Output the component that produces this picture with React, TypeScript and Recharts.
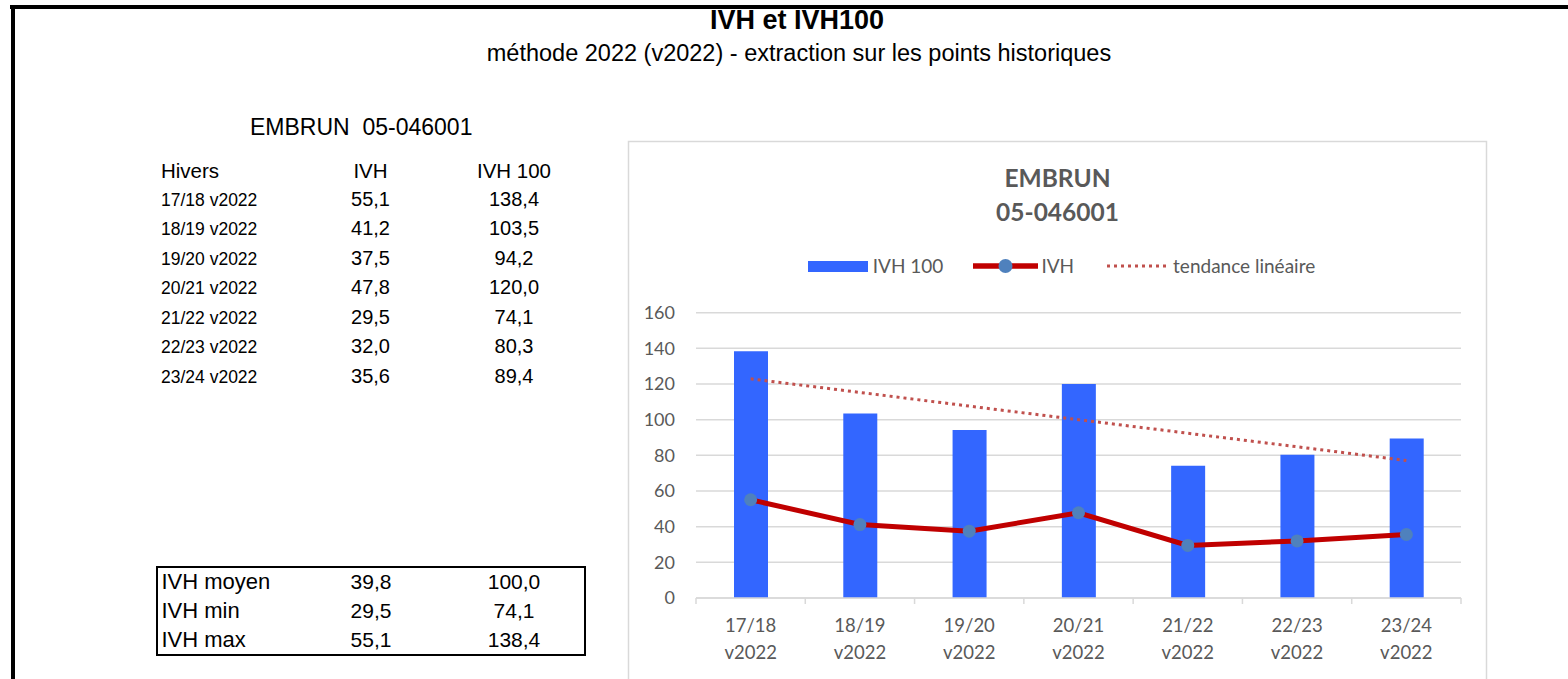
import { ComposedChart, Bar, Line, XAxis, YAxis, CartesianGrid, Legend } from 'recharts'

// ── Data ──────────────────────────────────────────────────────────────────────

const winters = ['17/18 v2022', '18/19 v2022', '19/20 v2022', '20/21 v2022', '21/22 v2022', '22/23 v2022', '23/24 v2022']
const ivhValues = [55.1, 41.2, 37.5, 47.8, 29.5, 32.0, 35.6]
const ivh100Values = [138.4, 103.5, 94.2, 120.0, 74.1, 80.3, 89.4]
const trendValues = [122.9, 115.3, 107.6, 100.0, 92.4, 84.8, 77.1]
const yTicks = [0, 20, 40, 60, 80, 100, 120, 140, 160]

const summaryLabels = ['IVH moyen', 'IVH min', 'IVH max']
const summaryIvh = [39.8, 29.5, 55.1]
const summaryIvh100 = [100.0, 74.1, 138.4]

const chartData = winters.map((hiver, i) => ({
  hiver,
  ivh100: ivh100Values[i],
  ivh: ivhValues[i],
  trend: trendValues[i],
}))

// ── Styles ────────────────────────────────────────────────────────────────────

const ARIAL = '"Liberation Sans", Arial, sans-serif'
const CHART_FONT = 'Lato, "Open Sans", sans-serif'
const GREY_TEXT = '#595959'
const GRID = '#d9d9d9'
const BAR_BLUE = '#3366ff'
const IVH_RED = '#c00000'
const DOT_BLUE = '#4f81bd'
const TREND_RED = '#c0504d'

const fmt = (v: number) => v.toFixed(1).replace('.', ',')

// ── Axis tick: two-line label + boundary tick marks ───────────────────────────

function WinterTick(props: any) {
  const { x, y, payload, index, width, visibleTicksCount } = props
  const count = visibleTicksCount ?? winters.length
  const half = payload?.offset ?? width / count / 2
  const [season, version] = String(payload.value).split(' ')
  const isLast = index === winters.length - 1
  return (
    <g>
      <line x1={x - half} x2={x - half} y1={y} y2={y + 6} stroke={GRID} strokeWidth={1.5} />
      {isLast && <line x1={x + half} x2={x + half} y1={y} y2={y + 6} stroke={GRID} strokeWidth={1.5} />}
      <text x={x} y={y + 34} textAnchor="middle" fill={GREY_TEXT} fontSize={18.5} fontFamily={CHART_FONT}>{season}</text>
      <text x={x} y={y + 61} textAnchor="middle" fill={GREY_TEXT} fontSize={18.5} fontFamily={CHART_FONT}>{version}</text>
    </g>
  )
}

// ── Legend ────────────────────────────────────────────────────────────────────

function ChartLegend() {
  const label = { color: GREY_TEXT, fontSize: 19, fontFamily: CHART_FONT, lineHeight: '24px' }
  return (
    <div style={{ display: 'flex', justifyContent: 'center', alignItems: 'center', height: 24, paddingLeft: 8 }}>
      <svg width={60} height={11} style={{ marginRight: 5 }}>
        <rect x={0} y={0} width={60} height={11} fill={BAR_BLUE} />
      </svg>
      <span style={label}>IVH 100</span>
      <svg width={65} height={16} style={{ marginLeft: 30, marginRight: 3 }}>
        <line x1={0} x2={65} y1={8} y2={8} stroke={IVH_RED} strokeWidth={5.5} strokeLinecap="round" />
        <circle cx={32.5} cy={8} r={7} fill={DOT_BLUE} />
      </svg>
      <span style={label}>IVH</span>
      <svg width={59} height={6} style={{ marginLeft: 33, marginRight: 7 }}>
        <line x1={0} x2={59} y1={3} y2={3} stroke={TREND_RED} strokeWidth={3} strokeDasharray="3 4" />
      </svg>
      <span style={label}>tendance linéaire</span>
    </div>
  )
}

// ── Main ──────────────────────────────────────────────────────────────────────

export default function App() {
  const rowY = (i: number) => 206 + i * 29.45
  const boxY = (i: number) => 589 + i * 29

  return (
    <div style={{ position: 'absolute', left: 0, top: 0, width: 1568, height: 679, background: '#fff', overflow: 'hidden' }}>
      {/* Embedded chart panel */}
      <div style={{ position: 'absolute', left: 629, top: 142, width: 857, height: 537 }}>
        <ComposedChart
          width={857}
          height={537}
          data={chartData}
          margin={{ top: 170.7, right: 25, bottom: 11, left: 0 }}
        >
          <CartesianGrid vertical={false} stroke={GRID} strokeWidth={1.5} />
          <XAxis
            dataKey="hiver"
            interval={0}
            height={70}
            axisLine={{ stroke: GRID, strokeWidth: 1.5 }}
            tickLine={false}
            tickSize={0}
            tickMargin={0}
            tick={<WinterTick />}
          />
          <YAxis
            domain={[0, 160]}
            ticks={yTicks}
            width={67}
            axisLine={false}
            tickLine={false}
            tickSize={0}
            tickMargin={21}
            tick={{ fill: GREY_TEXT, fontSize: 18, fontFamily: CHART_FONT }}
          />
          <Legend
            verticalAlign="middle"
            align="center"
            content={<ChartLegend />}
            wrapperStyle={{ top: 112, left: 0, width: 857 }}
          />
          <Bar dataKey="ivh100" name="IVH 100" fill={BAR_BLUE} barSize={34} isAnimationActive={false} />
          <Line
            dataKey="trend"
            name="tendance linéaire"
            stroke={TREND_RED}
            strokeWidth={3}
            strokeDasharray="3 4"
            dot={false}
            activeDot={false}
            isAnimationActive={false}
          />
          <Line
            dataKey="ivh"
            name="IVH"
            stroke={IVH_RED}
            strokeWidth={5}
            dot={{ r: 6.5, fill: DOT_BLUE, stroke: 'none' }}
            activeDot={false}
            isAnimationActive={false}
          />
        </ComposedChart>
      </div>

      {/* Sheet texts, tables and frames */}
      <svg width={1568} height={679} style={{ position: 'absolute', left: 0, top: 0, pointerEvents: 'none' }}>
        <rect x={10} y={5} width={1558} height={4} fill="#000" />
        <rect x={11} y={5} width={4} height={674} fill="#000" />
        <rect x={628.5} y={141.5} width={858} height={600} fill="none" stroke={GRID} strokeWidth={1.5} />

        <text x={797} y={29} textAnchor="middle" fontFamily={ARIAL} fontWeight="bold" fontSize={27} fill="#000">IVH et IVH100</text>
        <text x={799} y={61} textAnchor="middle" fontFamily={ARIAL} fontSize={23.5} fill="#000">méthode 2022 (v2022) - extraction sur les points historiques</text>

        <text x={1057.5} y={186.5} textAnchor="middle" fontFamily={CHART_FONT} fontWeight="bold" fontSize={24.5} fill={GREY_TEXT}>EMBRUN</text>
        <text x={1057.5} y={221} textAnchor="middle" fontFamily={CHART_FONT} fontWeight="bold" fontSize={24.5} fill={GREY_TEXT}>05-046001</text>

        <text x={250} y={135} fontFamily={ARIAL} fontSize={23} fill="#000" style={{ whiteSpace: 'pre' }}>EMBRUN  05-046001</text>

        <text x={161} y={178} fontFamily={ARIAL} fontSize={20.5} fill="#000">Hivers</text>
        <text x={370.5} y={178} textAnchor="middle" fontFamily={ARIAL} fontSize={20.5} fill="#000">IVH</text>
        <text x={514} y={178} textAnchor="middle" fontFamily={ARIAL} fontSize={20.5} fill="#000">IVH 100</text>

        {winters.map((w, i) => (
          <g key={w}>
            <text x={161} y={rowY(i)} fontFamily={ARIAL} fontSize={17.5} fill="#000">{w}</text>
            <text x={370.5} y={rowY(i)} textAnchor="middle" fontFamily={ARIAL} fontSize={20} fill="#000">{fmt(ivhValues[i])}</text>
            <text x={514} y={rowY(i)} textAnchor="middle" fontFamily={ARIAL} fontSize={20} fill="#000">{fmt(ivh100Values[i])}</text>
          </g>
        ))}

        <rect x={157} y={567} width={428} height={88} fill="none" stroke="#000" strokeWidth={2} />
        {summaryLabels.map((s, i) => (
          <g key={s}>
            <text x={161.5} y={boxY(i)} fontFamily={ARIAL} fontSize={22} fill="#000">{s}</text>
            <text x={371} y={boxY(i)} textAnchor="middle" fontFamily={ARIAL} fontSize={21} fill="#000">{fmt(summaryIvh[i])}</text>
            <text x={514} y={boxY(i)} textAnchor="middle" fontFamily={ARIAL} fontSize={21} fill="#000">{fmt(summaryIvh100[i])}</text>
          </g>
        ))}
      </svg>
    </div>
  )
}
